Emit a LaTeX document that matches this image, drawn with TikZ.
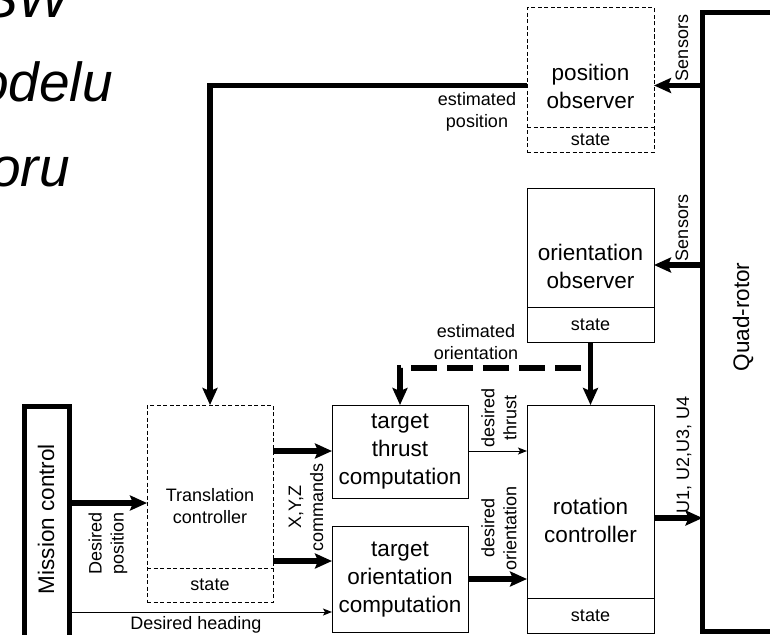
\documentclass[tikz,border=0pt]{standalone}
\usepackage{fontspec}
\setmainfont{Liberation Sans}
\usetikzlibrary{arrows.meta}
\begin{document}
\begin{tikzpicture}[x=1pt,y=-1pt,
  big/.style={font=\fontsize{22.5}{28}\selectfont, align=center, inner sep=0pt},
  small/.style={font=\fontsize{18}{22}\selectfont, align=center, inner sep=0pt},
  title/.style={font=\fontsize{55}{66}\selectfont\itshape, anchor=base east, inner sep=0pt},
  blk/.style={draw, line width=1pt, inner sep=0pt, outer sep=0pt, anchor=north west},
  dblk/.style={blk, dash pattern=on 4pt off 2.5pt},
  frame/.style={draw, line width=5pt, inner sep=0pt, outer sep=0pt, anchor=north west},
  heavy/.style={line width=5.5pt, -{Stealth[length=17pt,width=15pt,inset=3pt]}},
  light/.style={line width=1pt, -{Stealth[length=9pt,width=7pt,inset=2pt]}},
]
\useasboundingbox (0,0) rectangle (770,634);
\clip (0,0) rectangle (770,634);

% heading, running off the left edge
\node[title] (h1) at (70,18) {SW};
\node[title] (h2) at (113,101) {odelu};
\node[title] (h3) at (70,186) {oru};

% outer blocks
\node[frame, minimum width=45pt, minimum height=260pt] (mc) at (24,406) {};
\node[big, rotate=90] (mcl) at (46,519) {Mission control};
\node[frame, minimum width=120pt, minimum height=618.5pt] (qr) at (702.5,12.5) {};
\node[big, rotate=90] (qrl) at (743,317) {Quad-rotor};

% observers
\node[dblk, minimum width=127pt, minimum height=144pt] (pobs) at (527,8) {};
\draw[line width=1pt, dash pattern=on 4pt off 2.5pt] (527,127) -- (654,127);
\node[big] (pobsl) at (590.5,86) {position\\observer};
\node[small] (pobss) at (590.5,140) {state};

\node[blk, minimum width=127pt, minimum height=154pt] (oobs) at (527,188) {};
\draw[line width=1pt] (527,307) -- (654,307);
\node[big] (oobsl) at (590.5,266.5) {orientation\\observer};
\node[small] (oobss) at (590.5,325) {state};

% controllers
\node[dblk, minimum width=126pt, minimum height=197pt] (tc) at (147,405) {};
\draw[line width=1pt, dash pattern=on 4pt off 2.5pt] (147,568) -- (273,568);
\node[small] (tcl) at (210,506) {Translation\\controller};
\node[small] (tcs) at (210,585) {state};

\node[blk, minimum width=136pt, minimum height=93pt] (tt) at (332,405) {};
\node[big] (ttl) at (400,452) {target\\thrust\\computation};

\node[blk, minimum width=136pt, minimum height=106pt] (to) at (332,526) {};
\node[big] (tol) at (400,580) {target\\orientation\\computation};

\node[blk, minimum width=127pt, minimum height=228pt] (rc) at (527,405) {};
\draw[line width=1pt] (527,598) -- (654,598);
\node[big] (rcl) at (590.5,520.5) {rotation\\controller};
\node[small] (rcs) at (590.5,615.5) {state};

% sensor feedback
\draw[heavy] (qr.west |- 0,85.5) -- (pobs.east |- 0,85.5);
\draw[heavy] (qr.west |- 0,265) -- (oobs.east |- 0,265);
\node[small, rotate=90] (sn1) at (682,48) {Sensors};
\node[small, rotate=90] (sn2) at (682,228) {Sensors};

% estimated position
\draw[heavy] (pobs.west |- 0,85.5) -| (tc.north);
\node[small] (epl) at (477,112) {estimated\\position};

% estimated orientation
\draw[heavy] (oobs.south) -- (rc.north);
\draw[heavy, dash pattern=on 26pt off 10pt, dash phase=26pt] (oobs.south |- 0,368) -| (tt.north);
\node[small] (eol) at (476,342) {estimated\\orientation};

% mission inputs
\draw[heavy] (mc.east |- 0,503) -- (tc.west |- 0,503);
\node[small, rotate=90] (dpl) at (108,543) {Desired\\position};
\draw[light] (mc.east |- 0,612) -- (to.west |- 0,612);
\node[small] (dhl) at (196,625) {Desired heading};

% translation commands
\draw[heavy] (tc.east |- 0,451) -- (tt.west |- 0,451);
\draw[heavy] (tc.east |- 0,561) -- (to.west |- 0,561);
\node[small, rotate=90] (xyz) at (306,507) {X,Y,Z\\commands};

% targets to rotation controller
\draw[light] (tt.east |- 0,451) -- (rc.west |- 0,451);
\node[small, rotate=90] (dtl) at (499,418) {desired\\thrust};
\draw[heavy] (to.east |- 0,579) -- (rc.west |- 0,579);
\node[small, rotate=90] (dol) at (499,528) {desired\\orientation};

% motor commands
\draw[heavy] (rc.east |- 0,518) -- (qr.west |- 0,518);
\node[small, rotate=90] (ul) at (684,455) {U1, U2,U3, U4};
\end{tikzpicture}
\end{document}
